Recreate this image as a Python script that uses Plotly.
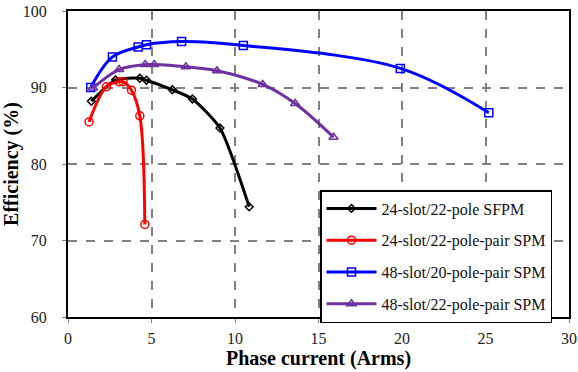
import plotly.graph_objects as go

# Data
sfpm_x = [1.4, 2.85, 4.3, 4.7, 6.25, 7.45, 9.1, 10.85]
sfpm_y = [88.2, 91.0, 91.2, 90.95, 89.7, 88.5, 84.7, 74.4]

spm2422_x = [1.26, 2.3, 3.06, 3.3, 3.8, 4.3, 4.6]
spm2422_y = [85.5, 90.1, 90.75, 90.75, 89.65, 86.3, 72.1]

spm4820_x = [1.36, 2.66, 4.2, 4.7, 6.8, 10.5, 19.9, 25.2]
spm4820_y = [90.0, 94.0, 95.3, 95.6, 96.0, 95.5, 92.5, 86.7]

spm4822_x = [1.5, 3.06, 4.62, 5.16, 7.06, 8.92, 11.66, 13.6, 15.9]
spm4822_y = [89.95, 92.35, 93.0, 93.0, 92.7, 92.2, 90.4, 87.9, 83.5]

names = ["24-slot/22-pole SFPM", "24-slot/22-pole-pair SPM",
         "48-slot/20-pole-pair SPM", "48-slot/22-pole-pair SPM"]
colors = ["#000000", "#ff0000", "#0000ff", "#7030a0"]
symbols = ["diamond-open", "circle-open", "square-open", "triangle-up-open"]
xs = [sfpm_x, spm2422_x, spm4820_x, spm4822_x]
ys = [sfpm_y, spm2422_y, spm4820_y, spm4822_y]
smooth = [0.6, 1.0, 1.0, 1.0]
msize = [6, 8, 8, 8]

x_ticks = [0, 5, 10, 15, 20, 25, 30]
y_ticks = [60, 70, 80, 90, 100]

FONT = "Liberation Serif"

fig = go.Figure()
for i in range(4):
    fig.add_trace(go.Scatter(
        x=xs[i], y=ys[i], name=names[i], mode="lines+markers",
        legendgroup=f"g{i}",
        line=dict(color=colors[i], width=3, shape="spline", smoothing=smooth[i]),
        marker=dict(symbol=symbols[i], size=msize[i], color=colors[i],
                    line=dict(width=1.5, color=colors[i])),
    ))

tickfont = dict(family=FONT, size=16, color="#222")

fig.update_layout(
    width=578, height=372,
    margin=dict(l=68, r=9, t=11, b=55, autoexpand=False),
    paper_bgcolor="white", plot_bgcolor="white",
    font=dict(family=FONT, size=15, color="#222"),
    showlegend=True,
    legend=dict(
        x=0.503, y=0.415, xanchor="left", yanchor="top",
        bgcolor="white", bordercolor="black", borderwidth=1.5,
        font=dict(family=FONT, size=16, color="#111"),
        traceorder="grouped", tracegroupgap=8,
        itemwidth=50,
    ),
    xaxis=dict(
        range=[0, 30], tickvals=x_ticks, ticktext=[str(v) for v in x_ticks],
        automargin=False, tickfont=tickfont,
        showline=True, linecolor="black", linewidth=2, mirror=True,
        showgrid=True, gridcolor="#808080", griddash="dash", gridwidth=1.5,
        zeroline=False, ticks="outside", ticklen=4, tickcolor="#808080",
        ticklabelstandoff=2,
        title=dict(text="<b>Phase current (Arms)</b>",
                   font=dict(family=FONT, size=20, color="black"), standoff=3),
    ),
    yaxis=dict(
        range=[60, 100], tickvals=y_ticks, ticktext=[str(v) for v in y_ticks],
        automargin=False, tickfont=tickfont,
        showline=True, linecolor="black", linewidth=2, mirror=True,
        showgrid=True, gridcolor="#808080", griddash="dash", gridwidth=1.5,
        zeroline=False, ticks="outside", ticklen=4, tickcolor="#808080",
        ticklabelstandoff=12,
        title=dict(text="<b>Efficiency (%)</b>",
                   font=dict(family=FONT, size=20, color="black"), standoff=6),
    ),
)

fig.write_html("out.html")
